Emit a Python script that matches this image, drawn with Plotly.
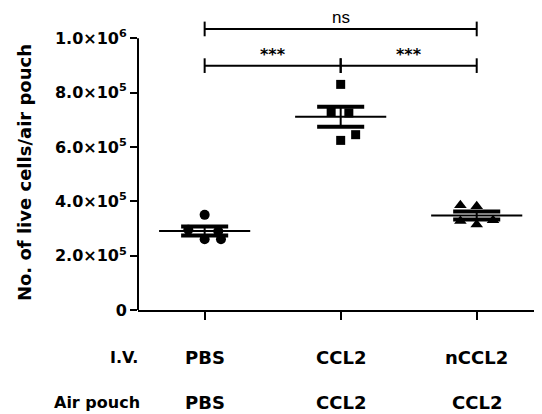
import numpy as np
import plotly.graph_objects as go

# ---- data ----
groups = ["PBS", "CCL2", "nCCL2"]
iv_labels = ["PBS", "CCL2", "nCCL2"]
pouch_labels = ["PBS", "CCL2", "CCL2"]
pbs_vals = [3.50e5, 2.95e5, 2.90e5, 2.60e5, 2.60e5]
ccl2_vals = [8.30e5, 7.30e5, 7.25e5, 6.45e5, 6.24e5]
nccl2_vals = [3.85e5, 3.82e5, 3.30e5, 3.15e5, 3.27e5]
ytick_vals = [0, 2e5, 4e5, 6e5, 8e5, 1e6]
ytick_text = ["0", "2.0×10<sup>5</sup>", "4.0×10<sup>5</sup>", "6.0×10<sup>5</sup>",
              "8.0×10<sup>5</sup>", "1.0×10<sup>6</sup>"]
comparisons = [(0, 1, "***"), (1, 2, "***"), (0, 2, "ns")]

# ---- style ----
jitters = [
    [0.0, -0.12, 0.10, 0.0, 0.12],
    [0.0, -0.07, 0.06, 0.11, 0.0],
    [-0.12, 0.0, 0.12, 0.0, -0.12],
]
symbols = ["circle", "square", "triangle-up"]
msizes = [10, 9, 11]
FONT = "DejaVu Sans"
mean_half = 0.335
cap_half = 0.173

fig = go.Figure()
series = [pbs_vals, ccl2_vals, nccl2_vals]
for i, vals in enumerate(series):
    v = np.array(vals)
    m = v.mean()
    s = v.std(ddof=1) / np.sqrt(len(v))
    fig.add_trace(go.Scatter(x=[i + j for j in jitters[i]], y=vals, mode="markers",
                             marker=dict(symbol=symbols[i], size=msizes[i], color="black"),
                             showlegend=False, cliponaxis=False))
    fig.add_trace(go.Scatter(x=[i, i], y=[m - s, m + s], mode="lines",
                             line=dict(color="black", width=2), showlegend=False))
    fig.add_trace(go.Scatter(x=[i - mean_half, i + mean_half], y=[m, m], mode="lines",
                             line=dict(color="black", width=2), showlegend=False))
    for yy in (m - s, m + s):
        fig.add_trace(go.Scatter(x=[i - cap_half, i + cap_half], y=[yy, yy], mode="lines",
                                 line=dict(color="black", width=4), showlegend=False))

# significance brackets
lev = {"***": 0.899e6, "ns": 1.034e6}
tick_h = 0.027e6
for a, b, lab in comparisons:
    yb = lev[lab]
    fig.add_trace(go.Scatter(x=[a, a, None, a, b, None, b, b],
                             y=[yb - tick_h, yb + tick_h, None, yb, yb, None, yb - tick_h, yb + tick_h],
                             mode="lines", line=dict(color="black", width=2), showlegend=False,
                             cliponaxis=False))
    if lab == "ns":
        fig.add_annotation(x=(a + b) / 2, y=yb, xref="x", yref="y", text="ns", showarrow=False,
                           yanchor="bottom", yshift=0, font=dict(family="Liberation Sans", size=17, color="black"))
    else:
        fig.add_annotation(x=(a + b) / 2, y=yb, xref="x", yref="y", text="<b>***</b>", showarrow=False,
                           yanchor="bottom", yshift=0, font=dict(family=FONT, size=16, color="black"))

# category label rows
for i in range(3):
    fig.add_annotation(x=i, y=0, xref="x", yref="paper", text="<b>%s</b>" % iv_labels[i],
                       showarrow=False, yanchor="middle", yshift=-47,
                       font=dict(family=FONT, size=18, color="black"))
    fig.add_annotation(x=i, y=0, xref="x", yref="paper", text="<b>%s</b>" % pouch_labels[i],
                       showarrow=False, yanchor="middle", yshift=-92,
                       font=dict(family=FONT, size=18, color="black"))
fig.add_annotation(x=0, y=0, xref="paper", yref="paper", text="<b>I.V.</b>", showarrow=False,
                   xanchor="right", yanchor="middle", xshift=2, yshift=-47,
                   font=dict(family=FONT, size=16, color="black"))
fig.add_annotation(x=0, y=0, xref="paper", yref="paper", text="<b>Air pouch</b>", showarrow=False,
                   xanchor="right", yanchor="middle", xshift=4, yshift=-92,
                   font=dict(family=FONT, size=16, color="black"))

# y axis title
fig.add_annotation(x=0, y=0.458, xref="paper", yref="paper", text="<b>No. of live cells/air pouch</b>",
                   showarrow=False, textangle=-90, xanchor="center", yanchor="middle", xshift=-114,
                   font=dict(family=FONT, size=18, color="black"))

# y axis line (stops at top tick)
fig.add_shape(type="line", xref="paper", yref="y", x0=0, x1=0, y0=0, y1=ytick_vals[-1],
              line=dict(color="black", width=2))

# page body adds an 8px margin, so the figure is 8px smaller and shifted
fig.update_layout(
    width=534, height=406,
    margin=dict(l=130, r=0, t=3, b=104),
    plot_bgcolor="white", paper_bgcolor="white",
    xaxis=dict(range=[-0.49, 2.48], showgrid=False, zeroline=False, showline=True,
               linecolor="black", linewidth=2, ticks="outside", ticklen=8, tickwidth=2,
               tickcolor="black", tickvals=[0, 1, 2], showticklabels=False),
    yaxis=dict(range=[0, 1.1e6], showgrid=False, zeroline=False, showline=False,
               ticks="outside", ticklen=7, tickwidth=2, tickcolor="black",
               tickvals=ytick_vals, ticktext=["<b>%s</b>" % t for t in ytick_text],
               tickfont=dict(family=FONT, size=16, color="black")),
)

fig.write_html("out.html")
